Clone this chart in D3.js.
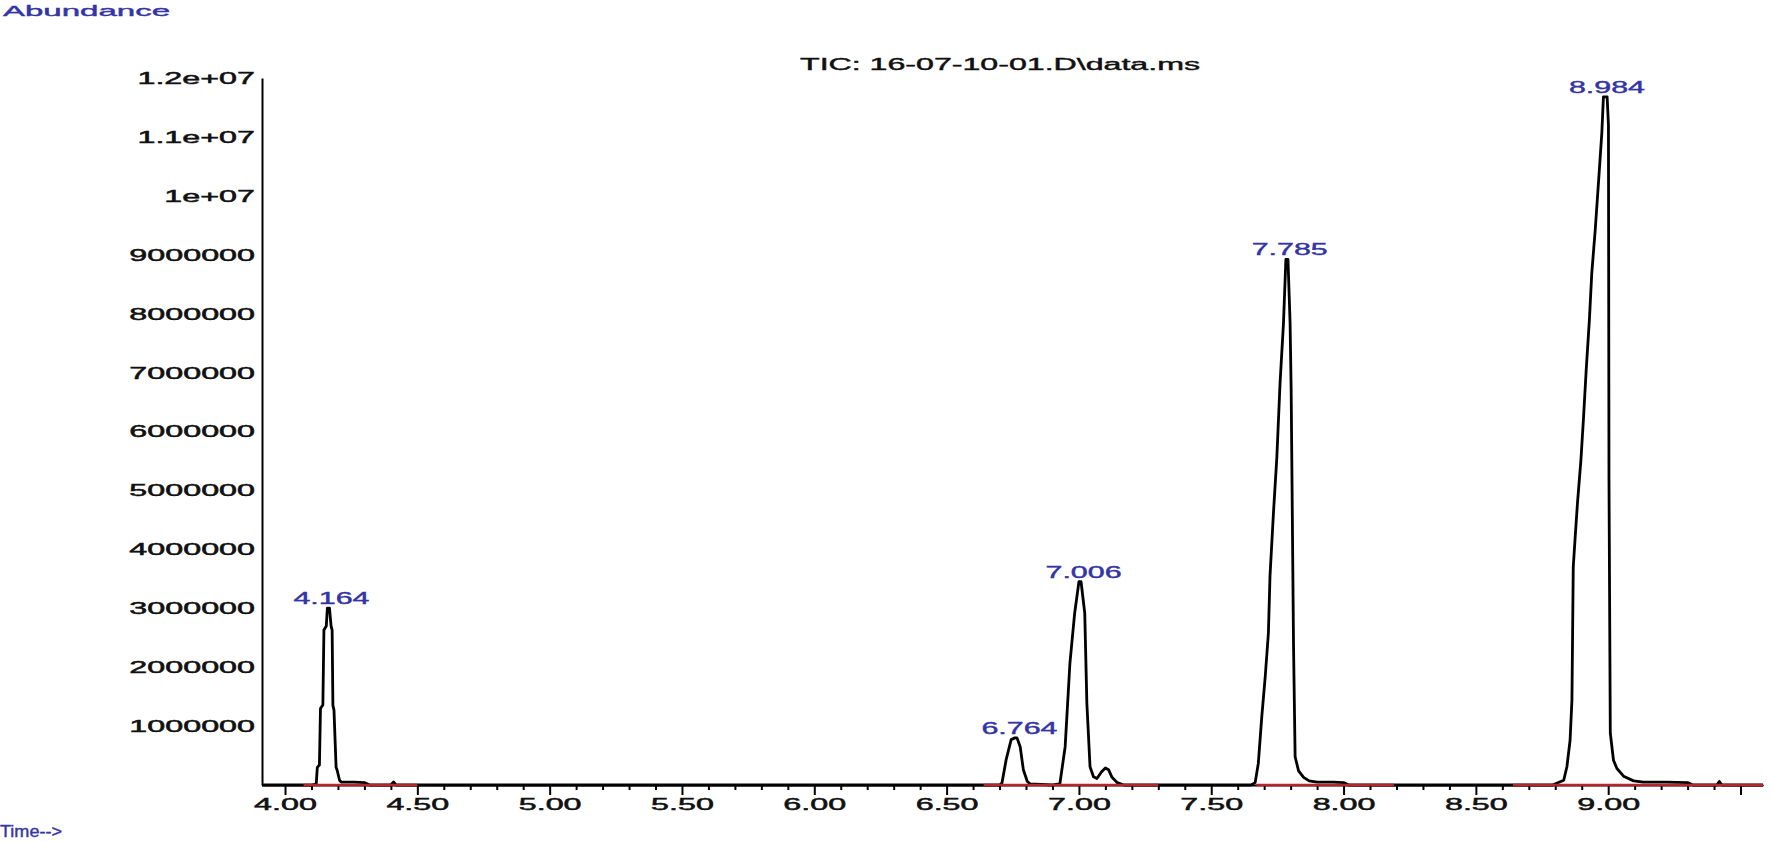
<!DOCTYPE html>
<html>
<head>
<meta charset="utf-8">
<script src="https://cdn.jsdelivr.net/npm/d3@7"></script>
<style>
  body { margin: 0; background: #fff; }
  text { font-family: "Liberation Sans", Arial, sans-serif; }
</style>
</head>
<body>
<div id="viz"></div>
<script>
// chromatogram values
var traceTime = [3.913, 4.100, 4.118, 4.122, 4.130, 4.134, 4.143, 4.147, 4.156, 4.160, 4.168, 4.174, 4.178, 4.181, 4.185, 4.193, 4.197, 4.206, 4.212, 4.260, 4.300, 4.320, 4.400, 4.410, 4.420,
  6.700, 6.709, 6.725, 6.744, 6.758, 6.766, 6.778, 6.790, 6.805, 6.815, 6.900,
  6.928, 6.948, 6.966, 6.984, 7.000, 7.008, 7.022, 7.030, 7.042, 7.055, 7.068, 7.085, 7.100, 7.112, 7.125, 7.145, 7.170,
  7.650, 7.666, 7.678, 7.691, 7.704, 7.716, 7.722, 7.735, 7.748, 7.760, 7.773, 7.782, 7.790, 7.798, 7.802, 7.811, 7.817, 7.830, 7.849, 7.870, 7.900, 7.960, 8.000, 8.020,
  8.790, 8.832, 8.844, 8.856, 8.863, 8.868, 8.875, 8.884, 8.897, 8.907, 8.917, 8.929, 8.938, 8.951, 8.964, 8.976, 8.982, 8.996, 9.001, 9.003, 9.008, 9.020, 9.033, 9.058, 9.096, 9.133, 9.220, 9.300, 9.320, 9.410, 9.420, 9.430, 9.585];

var traceAbund = [0, 0, 0.02e6, 0.30e6, 0.34e6, 1.30e6, 1.36e6, 2.63e6, 2.70e6, 3.00e6, 3.00e6, 2.70e6, 2.63e6, 1.35e6, 1.27e6, 0.30e6, 0.25e6, 0.08e6, 0.05e6, 0.05e6, 0.04e6, 0, 0, 0.05e6, 0,
  0, 0.03e6, 0.43e6, 0.77e6, 0.80e6, 0.80e6, 0.65e6, 0.26e6, 0.06e6, 0.02e6, 0,
  0.02e6, 0.65e6, 2.07e6, 2.92e6, 3.45e6, 3.45e6, 2.92e6, 1.39e6, 0.31e6, 0.14e6, 0.11e6, 0.22e6, 0.29e6, 0.26e6, 0.13e6, 0.04e6, 0,
  0, 0.04e6, 0.37e6, 1.16e6, 1.84e6, 2.58e6, 3.54e6, 4.61e6, 5.57e6, 6.82e6, 7.84e6, 8.92e6, 8.92e6, 7.84e6, 6.70e6, 2.35e6, 0.48e6, 0.24e6, 0.13e6, 0.07e6, 0.05e6, 0.05e6, 0.04e6, 0,
  0, 0.08e6, 0.31e6, 0.76e6, 1.44e6, 3.70e6, 4.19e6, 4.79e6, 5.52e6, 6.25e6, 7.05e6, 7.90e6, 8.69e6, 9.42e6, 10.27e6, 11.07e6, 11.68e6, 11.68e6, 11.20e6, 5.18e6, 0.88e6, 0.42e6, 0.28e6, 0.15e6, 0.07e6, 0.05e6, 0.05e6, 0.04e6, 0, 0, 0.06e6, 0, 0];

var peakTimes = [4.164, 6.764, 7.006, 7.785, 8.984];
var peakAbund = [3.00e6, 0.80e6, 3.45e6, 8.92e6, 11.68e6];
var peakLabels = ["4.164", "6.764", "7.006", "7.785", "8.984"];

// integration baselines (red)
var baseStart = [4.07, 6.64, 7.67, 8.64];
var baseEnd = [4.50, 7.30, 8.19, 9.585];

var xMajorTicks = [4.0, 4.5, 5.0, 5.5, 6.0, 6.5, 7.0, 7.5, 8.0, 8.5, 9.0, 9.5];
var xTickLabels = ["4.00", "4.50", "5.00", "5.50", "6.00", "6.50", "7.00", "7.50", "8.00", "8.50", "9.00", ""];
var yTicks = [1e6, 2e6, 3e6, 4e6, 5e6, 6e6, 7e6, 8e6, 9e6, 1e7, 1.1e7, 1.2e7];
var yTickLabels = ["1000000", "2000000", "3000000", "4000000", "5000000", "6000000", "7000000", "8000000", "9000000", "1e+07", "1.1e+07", "1.2e+07"];

var W = 1772, H = 842,
    margin = {top: 78, right: 9, bottom: 57, left: 262},
    width = W - margin.left - margin.right,
    height = H - margin.top - margin.bottom,
    stretch = 1.9,
    blue = "#3434a6";

var root = d3.select("#viz").append("svg")
    .attr("width", W)
    .attr("height", H);

var svg = root.append("g")
    .attr("transform", "translate(" + margin.left + "," + margin.top + ")");

var x = d3.scaleLinear().domain([3.913, 9.585]).range([0, width]),
    y = d3.scaleLinear().domain([0, 1.2e7]).range([height, 0]);

// y axis
var yAxis = svg.append("g")
    .call(d3.axisLeft(y).tickValues(yTicks).tickSize(0).tickSizeOuter(0)
        .tickFormat(function(d, i){ return yTickLabels[i]; }));
yAxis.select(".domain").attr("stroke", "#000").attr("stroke-width", 2);
yAxis.selectAll("text")
    .attr("font-size", 17)
    .attr("fill", "#111")
    .attr("stroke", "#111")
    .attr("stroke-width", 0.5)
    .attr("x", -7 / stretch)
    .attr("transform", "scale(" + stretch + ",1)");

// x axis, minor ticks first
var minor = d3.range(4.1, 9.55, 0.1).filter(function(v){
    return Math.abs(v * 2 - Math.round(v * 2)) > 0.01;
});
var xMinor = svg.append("g")
    .attr("transform", "translate(0," + height + ")")
    .call(d3.axisBottom(x).tickValues(minor).tickSize(5).tickSizeOuter(0).tickFormat(""));
xMinor.selectAll("line").attr("stroke-width", 2);

var xAxis = svg.append("g")
    .attr("transform", "translate(0," + height + ")")
    .call(d3.axisBottom(x).tickValues(xMajorTicks).tickSize(10).tickSizeOuter(0)
        .tickFormat(function(d, i){ return xTickLabels[i]; }));
xAxis.select(".domain").attr("stroke", "#000").attr("stroke-width", 2);
xAxis.selectAll("line").attr("stroke-width", 2);
xAxis.selectAll("text")
    .attr("font-size", 17)
    .attr("fill", "#111")
    .attr("stroke", "#111")
    .attr("stroke-width", 0.5)
    .attr("y", 13)
    .attr("transform", "scale(" + stretch + ",1)");

// the trace
var trace = traceTime.map(function(t, i){ return {t: t, v: traceAbund[i]}; });
var line = d3.line()
    .x(function(d){ return x(d.t); })
    .y(function(d){ return y(d.v); });

svg.append("path")
    .datum(trace)
    .attr("d", line)
    .attr("fill", "none")
    .attr("stroke", "#000")
    .attr("stroke-width", 2.8)
    .attr("stroke-linejoin", "round");

// red baselines
svg.selectAll(".base")
    .data(baseStart)
    .enter().append("line")
        .attr("class", "base")
        .attr("x1", function(d){ return x(d); })
        .attr("x2", function(d, i){ return x(baseEnd[i]); })
        .attr("y1", y(0))
        .attr("y2", y(0))
        .attr("stroke", "#b3262b")
        .attr("stroke-width", 2.6);

// peak labels
svg.selectAll(".peak")
    .data(peakTimes)
    .enter().append("g")
        .attr("class", "peak")
        .attr("transform", function(d, i){ return "translate(" + (x(d) + 3) + "," + (y(peakAbund[i]) - 4) + ")"; })
    .append("text")
        .attr("transform", "scale(" + stretch + ",1)")
        .attr("text-anchor", "middle")
        .attr("font-size", 16)
        .attr("fill", blue)
        .attr("stroke", blue)
        .attr("stroke-width", 0.4)
        .text(function(d, i){ return peakLabels[i]; });

// titles
root.append("text")
    .attr("x", 800).attr("y", 70)
    .attr("font-size", 16)
    .attr("textLength", 400)
    .attr("lengthAdjust", "spacingAndGlyphs")
    .attr("fill", "#111")
    .attr("stroke", "#111")
    .attr("stroke-width", 0.4)
    .text("TIC: 16-07-10-01.D\\data.ms");

root.append("text")
    .attr("x", 3).attr("y", 16)
    .attr("font-size", 15)
    .attr("textLength", 167)
    .attr("lengthAdjust", "spacingAndGlyphs")
    .attr("fill", blue)
    .attr("stroke", blue)
    .attr("stroke-width", 0.4)
    .text("Abundance");

root.append("text")
    .attr("x", 0).attr("y", 837)
    .attr("font-size", 17)
    .attr("textLength", 62)
    .attr("lengthAdjust", "spacingAndGlyphs")
    .attr("fill", blue)
    .attr("stroke", blue)
    .attr("stroke-width", 0.4)
    .text("Time-->");
</script>
</body>
</html>
